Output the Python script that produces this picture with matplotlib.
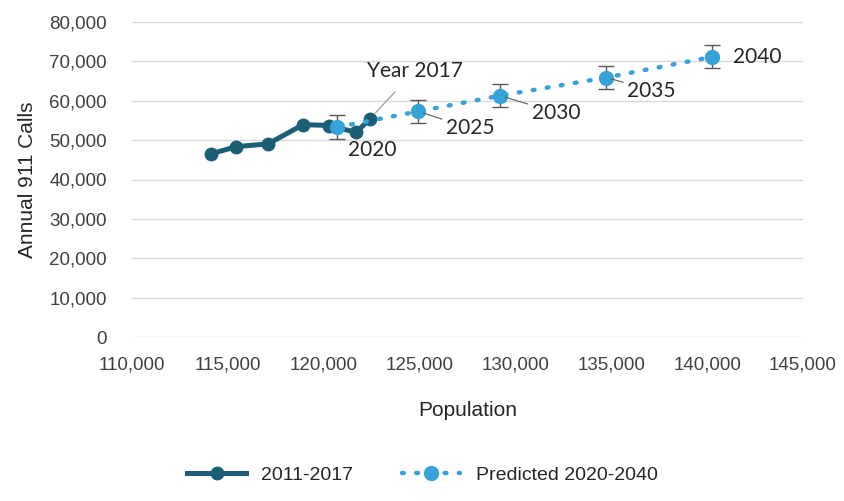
import matplotlib.pyplot as plt
from matplotlib.ticker import FuncFormatter, MultipleLocator

# --- data ---
hist_pop = [114100, 115450, 117100, 118930, 120300, 121700, 122400]
hist_calls = [46500, 48350, 49050, 53950, 53700, 51950, 55400]

pred_years = ["2020", "2025", "2030", "2035", "2040"]
pred_pop = [120700, 124930, 129200, 134750, 140250]
pred_calls = [53300, 57300, 61300, 65900, 71150]
pred_err = [3000, 2900, 2900, 2950, 2950]

# label offsets in pixels (dx, dy)
label_off = [(35, -23), (52, -17), (56, -17), (45, -13), (45, 0)]

DARK = "#1C5E76"
LIGHT = "#35A2D8"
GRID = "#D9D9D9"
TEXT = "#404040"
ERR = "#595959"

NARROW = ["Liberation Sans Narrow", "Liberation Sans", "DejaVu Sans"]
LABEL_FONT = ["Lato", "DejaVu Sans"]

fig = plt.figure(figsize=(8.45, 5.01), dpi=100)
ax = fig.add_axes([132 / 845, 1 - 337 / 501, (803 - 132) / 845, (337 - 22) / 501])

ax.set_xlim(110000, 145000)
ax.set_ylim(0, 80000)
ax.xaxis.set_major_locator(MultipleLocator(5000))
ax.yaxis.set_major_locator(MultipleLocator(10000))
fmt = FuncFormatter(lambda v, p: f"{int(v):,}")
ax.xaxis.set_major_formatter(fmt)
ax.yaxis.set_major_formatter(fmt)
ax.grid(axis="y", color=GRID, lw=1)
ax.set_axisbelow(True)
for s in ax.spines.values():
    s.set_visible(False)
ax.tick_params(length=0, labelsize=13.5, colors=TEXT)
ax.tick_params(axis="x", pad=14)
ax.tick_params(axis="y", pad=18)
for lab in ax.get_xticklabels() + ax.get_yticklabels():
    lab.set_family(NARROW)

# historical
h_line, = ax.plot(hist_pop, hist_calls, color=DARK, lw=3.6, marker="o",
                  markersize=9, zorder=4)

# predicted
ax.errorbar(pred_pop, pred_calls, yerr=pred_err, fmt="none", ecolor=ERR,
            elinewidth=1, capsize=6, capthick=1, zorder=3)
p_line, = ax.plot(pred_pop, pred_calls, color=LIGHT, lw=3.2,
                  linestyle=(0, (0.4, 2.8)), dash_capstyle="round",
                  marker="o", markersize=10, zorder=5)

# data labels (short leader lines for the middle ones, like Excel)
for i, (yr, x, y, (dx, dy)) in enumerate(zip(pred_years, pred_pop, pred_calls, label_off)):
    arrow = None
    if i in (1, 2, 3):
        arrow = dict(arrowstyle="-", color=ERR, lw=0.8, shrinkA=1, shrinkB=4)
    ax.annotate(yr, (x, y), xytext=(dx, dy), textcoords="offset pixels",
                ha="center", va="center", fontsize=15, color="#262626",
                family=LABEL_FONT, zorder=6, arrowprops=arrow)

ax.annotate("Year 2017", (hist_pop[-1], hist_calls[-1]), xytext=(45, 48),
            textcoords="offset pixels", ha="center", va="center",
            fontsize=15, color="#262626", family=LABEL_FONT,
            arrowprops=dict(arrowstyle="-", color="#A6A6A6", lw=1,
                            shrinkA=8, shrinkB=6))

ax.set_xlabel("Population", fontsize=15, color="#262626", family=NARROW,
              labelpad=20)
ax.set_ylabel("Annual 911 Calls", fontsize=15, color="#262626",
              family=NARROW, labelpad=9)

fig.legend([h_line, p_line], ["2011-2017", "Predicted 2020-2040"],
           loc="lower center", bbox_to_anchor=(0.5, 0.0), ncol=2,
           frameon=False, handlelength=3, columnspacing=2.5,
           prop={"family": NARROW, "size": 14}, labelcolor="#262626")

fig.savefig("out.png", dpi=100, facecolor="white")
